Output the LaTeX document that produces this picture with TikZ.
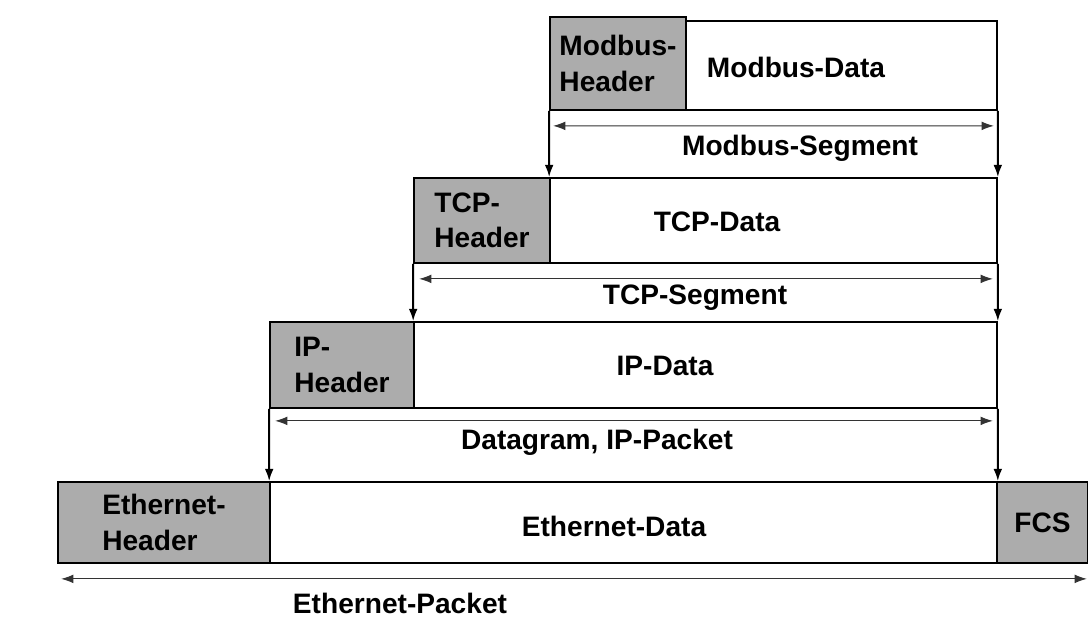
\documentclass[tikz,border=0pt]{standalone}
\usepackage{fontspec}
\setmainfont{Liberation Sans}
\usepackage{tikz}
\usetikzlibrary{arrows.meta,calc}

\begin{document}
\begin{tikzpicture}[x=0.02cm,y=-0.02cm,
  txt/.style={font=\bfseries\fontsize{16}{20}\selectfont},
  hdr/.style={draw,line width=1pt,fill=gray!65,align=left,inner sep=0pt,txt},
  dat/.style={draw,line width=1pt,fill=white,inner sep=0pt},
  span/.style={{Latex[length=7pt,width=5pt]}-{Latex[length=7pt,width=5pt]},line width=.6pt,black!80},
  drop/.style={-{Latex[length=7pt,width=5pt]},line width=1.1pt}]
\useasboundingbox (0,0) rectangle (1088,619);
\fill[white] (0,0) rectangle (1088,619);
% Modbus
\node[dat,minimum width=6.22cm,minimum height=1.78cm] at (841.5,65.5) (mbd) {};
\node[hdr,minimum width=2.72cm,minimum height=1.86cm] at (618,63.5) (mbh) {Modbus-\\Header};
\node[txt] at (796,67) (mbdt) {Modbus-Data};
% TCP
\node[dat,minimum width=8.94cm,minimum height=1.70cm] at (773.5,220.5) (tcpd) {};
\node[hdr,minimum width=2.72cm,minimum height=1.70cm] at (482,220.5) (tcph) {TCP-\\Header};
\node[txt] at (717,222) (tcpdt) {TCP-Data};
% IP
\node[dat,minimum width=11.66cm,minimum height=1.72cm] at (705.5,365) (ipd) {};
\node[hdr,minimum width=2.88cm,minimum height=1.72cm] at (342,365) (iph) {IP-\\Header};
\node[txt] at (665,366) (ipdt) {IP-Data};
% Ethernet
\node[dat,minimum width=14.54cm,minimum height=1.62cm] at (633.5,522.5) (ethd) {};
\node[hdr,minimum width=4.24cm,minimum height=1.62cm] at (164,522.5) (ethh) {Ethernet-\\Header};
\node[hdr,minimum width=1.82cm,minimum height=1.62cm] at (1042.5,522.5) (fcs) {FCS};
\node[txt] at (614,526) (ethdt) {Ethernet-Data};

% drops to the layer below
\draw[drop] (mbh.south west) -- (tcpd.north west);
\draw[drop] (mbd.south east) -- (tcpd.north east);
\draw[drop] (tcph.south west) -- (ipd.north west);
\draw[drop] (tcpd.south east) -- (ipd.north east);
\draw[drop] (iph.south west) -- (ethd.north west);
\draw[drop] (ipd.south east) -- (ethd.north east);

% spans
\coordinate (mbsL) at ($(mbh.south west)+(4,15)$);
\coordinate (mbsR) at ($(mbd.south east)+(-4,15)$);
\draw[span] (mbsL) -- (mbsR);
\node[txt] at (800,148) (mbs) {Modbus-Segment};
\coordinate (tcpsL) at ($(tcph.south west)+(6,15)$);
\coordinate (tcpsR) at ($(tcpd.south east)+(-5,15)$);
\draw[span] (tcpsL) -- (tcpsR);
\node[txt] at (695,298) (tcps) {TCP-Segment};
\coordinate (ipsL) at ($(iph.south west)+(6,12)$);
\coordinate (ipsR) at ($(ipd.south east)+(-5,12)$);
\draw[span] (ipsL) -- (ipsR);
\node[txt] at (597,442) (ips) {Datagram, IP-Packet};
\coordinate (ethsL) at ($(ethh.south west)+(4,15)$);
\coordinate (ethsR) at ($(fcs.south east)+(-2,15)$);
\draw[span] (ethsL) -- (ethsR);
\node[txt] at (400,603) (eths) {Ethernet-Packet};
\end{tikzpicture}
\end{document}
